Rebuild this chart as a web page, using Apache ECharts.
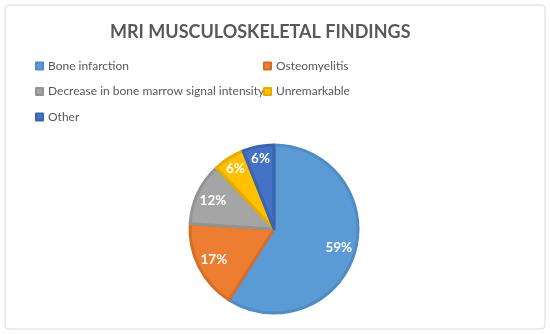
<!DOCTYPE html>
<html><head><meta charset="utf-8">
<script src="https://cdn.jsdelivr.net/npm/echarts@6/dist/echarts.min.js"></script>
<style>html,body{margin:0;padding:0;background:#fff}#c{width:550px;height:335px}</style>
</head><body><div id="c"></div>
<script>
const categories = ["Bone infarction","Osteomyelitis","Decrease in bone marrow signal intensity","Unremarkable","Other"];
const values = [59,17,12,6,6];
const colors = ["#5B9BD5","#ED7D31","#A5A5A5","#FFC000","#4472C4"];
const borders = ["#4F8CC4","#D46E28","#939393","#E5AC00","#3B64AE"];

const CX = 274, CY = 229, R = 84;
const chart = echarts.init(document.getElementById('c'));
const legendText = {color:'#595959', fontSize:12, fontFamily:'Lato, sans-serif'};
chart.setOption({
  animation:false,
  graphic:[{type:'rect',shape:{x:5,y:5,width:540,height:324,r:4},style:{fill:'#fff',stroke:'#D9D9D9',lineWidth:1},z:-10}],
  title:{text:'MRI MUSCULOSKELETAL FINDINGS',left:105,top:18,
    textStyle:{color:'#595959',fontSize:18,fontWeight:'bold',fontFamily:'Lato, sans-serif'}},
  legend:[
    {data:[categories[0],categories[2],categories[4]],orient:'vertical',left:30,top:55,itemGap:13.5,itemWidth:7,itemHeight:7,icon:'rect',textStyle:legendText,selectedMode:false},
    {data:[categories[1],categories[3]],orient:'vertical',left:258,top:55,itemGap:13.5,itemWidth:7,itemHeight:7,icon:'rect',textStyle:legendText,selectedMode:false}
  ],
  series:[{
    type:'pie',center:[CX,CY],radius:[0,R],startAngle:90,clockwise:true,
    data:categories.map((n,i)=>({name:n,value:values[i],itemStyle:{color:colors[i],borderColor:borders[i],borderWidth:3}})),
    label:{show:true,position:'inside',formatter:'{c}%',color:'#fff',fontWeight:'bold',fontSize:13.5,fontFamily:'Lato, sans-serif'},
    labelLine:{show:false},
    labelLayout:function(p){
      const lr = p.labelRect;
      const lx = lr.x + lr.width/2, ly = lr.y + lr.height/2;
      const k = values[p.dataIndex] < 10 ? 1.6 : 1.5;
      return {x: CX + (lx-CX)*k, y: CY + (ly-CY)*k, hideOverlap:false};
    }
  }]
});
</script></body></html>
